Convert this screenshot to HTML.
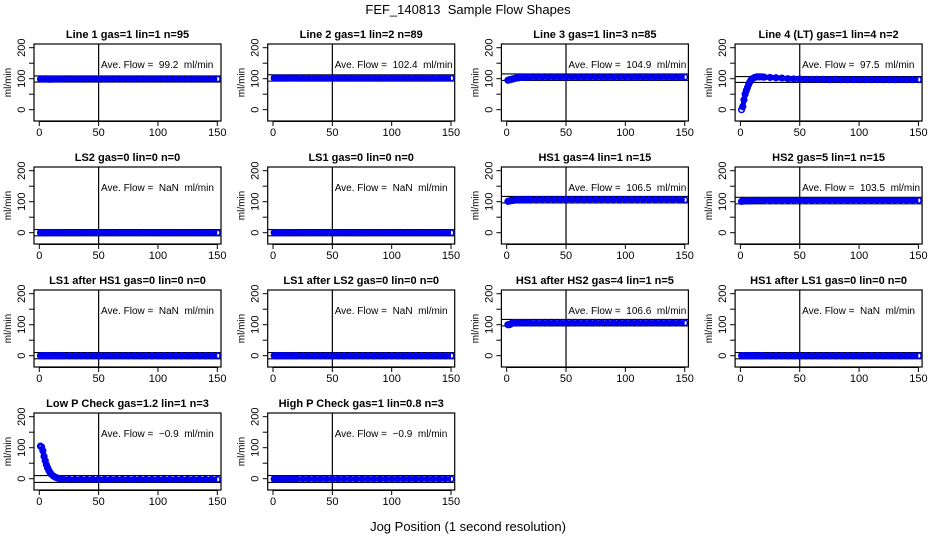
<!DOCTYPE html>
<html><head><meta charset="utf-8"><style>
body{margin:0;background:#fff;}
svg text{font-family:"Liberation Sans",Arial,sans-serif;}
.pre{white-space:pre;}
</style></head><body>
<svg id="c" width="936" height="540" viewBox="0 0 936 540" xmlns="http://www.w3.org/2000/svg">
<text x="468" y="14" text-anchor="middle" font-size="13" class="pre">FEF_140813  Sample Flow Shapes</text>
<text x="468" y="531" text-anchor="middle" font-size="13">Jog Position (1 second resolution)</text>
</svg>
<script>
const xs = [1,2,3,4,5,6,7,8,9,10,12,14,16,18,20,25,30,35,40,45,50,55,60,65,70,75,80,85,90,95,100,105,110,115,120,125,130,135,140,145,150];
const titles = ["Line 1 gas=1 lin=1 n=95","Line 2 gas=1 lin=2 n=89","Line 3 gas=1 lin=3 n=85","Line 4 (LT) gas=1 lin=4 n=2",
"LS2 gas=0 lin=0 n=0","LS1 gas=0 lin=0 n=0","HS1 gas=4 lin=1 n=15","HS2 gas=5 lin=1 n=15",
"LS1 after HS1 gas=0 lin=0 n=0","LS1 after LS2 gas=0 lin=0 n=0","HS1 after HS2 gas=4 lin=1 n=5","HS1 after LS1 gas=0 lin=0 n=0",
"Low P Check gas=1.2 lin=1 n=3","High P Check gas=1 lin=0.8 n=3"];
const aveLabels = ["99.2","102.4","104.9","97.5","NaN","NaN","106.5","103.5","NaN","NaN","106.6","NaN","\u22120.9","\u22120.9"];
const bandLines = [[109,89],[112.6,92.2],[115.4,94.4],[107,88],[10,-10],[10,-10],[117,96],[114,93],[10,-10],[10,-10],[117,96],[10,-10],[10,-12],[10,-12]];
const ys = [
[99,99,99,99,99,99,99,99,98,99,99,99,99,99,99,99,99,99,99,99,99,99,99,99,99,99,99,99,99,99,99,99,99,99,99,99,99,99,99,99,99],
[102,102,102,102,102,102,102,102,102,102,102,102,102,102,102,102,102,102,102,102,102,102,102,102,102,102,102,102,102,102,102,102,102,102,102,102,102,102,102,102,102],
[95,96,97,98,99,100,101,102,103,103,104,104,105,105,105,105,105,105,105,105,105,105,105,105,105,105,105,105,105,105,105,105,105,105,105,105,105,105,105,105,105],
[0,10,32,50,62,72,82,90,96,100,104,106,106,106,105,104,103,102,100,99,99,98,98,98,98,97,98,97,97,97,97,97,97,97,97,97,97,97,97,97,97],
[0,0,0,0,0,0,0,0,0,0,0,0,0,0,0,0,0,0,0,0,0,0,0,0,0,0,0,0,0,0,0,0,0,0,0,0,0,0,0,0,0],
[0,0,0,0,0,0,0,0,0,0,0,0,0,0,0,0,0,0,0,0,0,0,0,0,0,0,0,0,0,0,0,0,0,0,0,0,0,0,0,0,0],
[101,102,103,104,104,105,105,106,106,106,106,106,107,107,107,107,107,107,107,107,107,107,107,107,107,107,107,107,107,107,107,107,107,107,107,107,107,107,107,107,106],
[101,102,102,103,103,103,103,103,103,103,104,104,104,104,104,104,104,104,104,104,104,104,104,104,104,104,104,104,104,104,104,104,104,104,104,104,104,104,104,104,104],
[0,0,0,0,0,0,0,0,0,0,0,0,0,0,0,0,0,0,0,0,0,0,0,0,0,0,0,0,0,0,0,0,0,0,0,0,0,0,0,0,0],
[0,0,0,0,0,0,0,0,0,0,0,0,0,0,0,0,0,0,0,0,0,0,0,0,0,0,0,0,0,0,0,0,0,0,0,0,0,0,0,0,0],
[100,100,101,104,106,106,106,106,106,106,106,106,106,106,106,106,106,106,106,106,106,106,106,106,106,106,106,106,106,106,106,106,106,106,106,106,106,106,106,106,106],
[0,0,0,0,0,0,0,0,0,0,0,0,0,0,0,0,0,0,0,0,0,0,0,0,0,0,0,0,0,0,0,0,0,0,0,0,0,0,0,0,0],
[105,102,90,72,58,45,35,27,20,15,8,4,1,0,-1,-2,-2,-2,-2,-2,-2,-2,-2,-2,-2,-2,-2,-2,-2,-2,-2,-2,-2,-2,-2,-2,-2,-2,-2,-2,-2],
[-1,-1,-1,-1,-1,-1,-1,-1,-1,-1,-1,-1,-1,-1,-1,-1,-1,-1,-1,-1,-1,-1,-1,-1,-1,-1,-1,-1,-1,-1,-1,-1,-1,-1,-1,-1,-1,-1,-1,-1,-1]
];
const xTicks = [0,50,100,150];
const yTicks = [0,50,100,150,200];
const yLabels = [0,100,200];

const NS="http://www.w3.org/2000/svg";
const svg=document.getElementById('c');
function mk(tag,attrs,parent){const e=document.createElementNS(NS,tag);for(const k in attrs)e.setAttribute(k,attrs[k]);(parent||svg).appendChild(e);return e;}
const BW=187, BH=77;
titles.forEach((t,i)=>{
  const col=i%4,row=Math.floor(i/4);
  const L=34+col*233.7, T=44+row*123;
  const sx=v=>L+5.3+v*1.1867;
  const sy=v=>T+65.7-v*0.31;
  const g=mk('g',{});
  
  
  const tt=mk('text',{x:L+BW/2,y:T-6,'text-anchor':'middle','font-size':11,'font-weight':'bold'},g);
  tt.textContent=t;
  
  
  const box=mk('rect',{x:L,y:T,width:BW,height:BH,fill:'none',stroke:'#000','stroke-width':1.2},g);
  
  
  xTicks.forEach(v=>{
    mk('line',{x1:sx(v),x2:sx(v),y1:T+BH,y2:T+BH+5,stroke:'#000'},g);
    const lb=mk('text',{x:sx(v),y:T+BH+15,'text-anchor':'middle','font-size':11},g);
    lb.textContent=v;
    
    
  });
  mk('line',{x1:sx(0),x2:sx(150),y1:T+BH+0.5,y2:T+BH+0.5,stroke:'#000'},g);
  yTicks.forEach(v=>{mk('line',{x1:L-5,x2:L,y1:sy(v),y2:sy(v),stroke:'#000'},g);});
  yLabels.forEach(v=>{
    const lb=mk('text',{x:0,y:0,'text-anchor':'middle','font-size':11,transform:`translate(${L-9},${sy(v)}) rotate(-90)`},g);
    lb.textContent=v;
    
    
  });
  const yl=mk('text',{x:0,y:0,'text-anchor':'middle','font-size':10,transform:`translate(${L-23},${T+BH/2}) rotate(-90)`},g);
  yl.textContent='ml/min';
  
  
  mk('line',{x1:sx(50),x2:sx(50),y1:T,y2:T+BH,stroke:'#000','stroke-width':1.2},g);
  bandLines[i].forEach(v=>{
    const hl=mk('line',{x1:L,x2:L+BW,y1:sy(v),y2:sy(v),stroke:'#000','stroke-width':1.1},g);
    
    
  });
  const pts=xs.map((x,k)=>sx(x)+','+sy(ys[i][k])).join(' ');
  const pl=mk('polyline',{points:pts,fill:'none',stroke:'#0000ee','stroke-width':5,'stroke-linejoin':'round'},g);
  
  
  xs.forEach((x,k)=>{
    const c=mk('circle',{cx:sx(x),cy:sy(ys[i][k]),r:2.8,fill:'none',stroke:'#0000ee','stroke-width':1.6},g);
    
    
  });
  const at=mk('text',{x:L+67,y:T+24,'font-size':10,'class':'pre'},g);
  at.textContent='Ave. Flow =  '+aveLabels[i]+'  ml/min';
  
  
});
</script>
</body></html>
